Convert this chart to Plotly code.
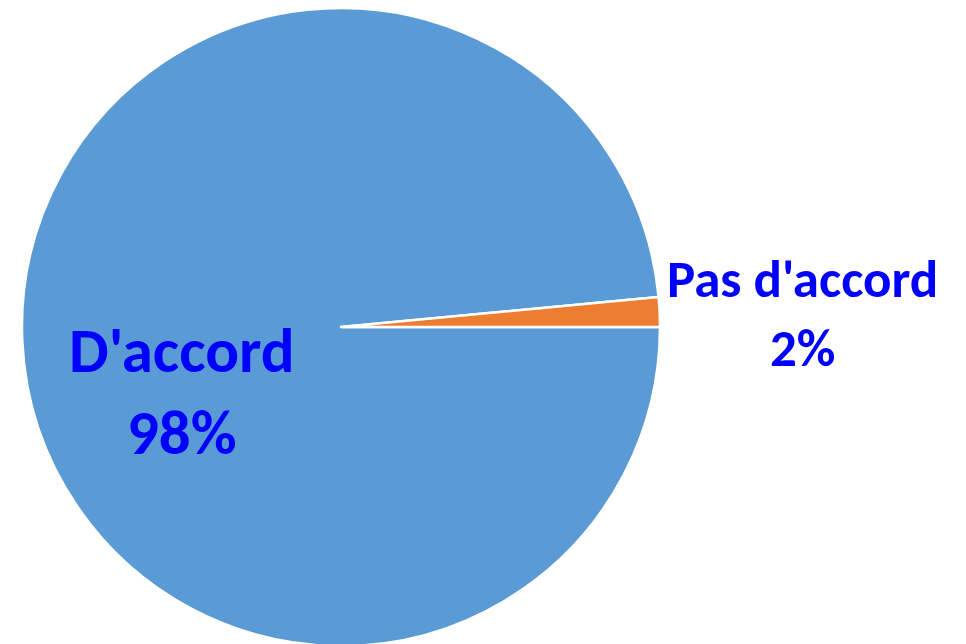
import plotly.graph_objects as go

labels = ["D'accord", "Pas d'accord"]
values = [98.5, 1.5]
pct_text = ["98%", "2%"]
colors = ["#5B9BD5", "#ED7D31"]

W, H = 966, 644
FONT = "Carlito, Lato, 'Open Sans', sans-serif"

fig = go.Figure(go.Pie(
    labels=labels,
    values=values,
    sort=False,
    direction="clockwise",
    rotation=90,
    textinfo="none",
    hoverinfo="label+percent",
    marker=dict(colors=colors, line=dict(color="white", width=2.5)),
    domain=dict(x=[13 / W, 653 / W], y=[6 / H, 1]),
    showlegend=False,
))

# label positions (paper coords) and sizes
ann_pos = [(174 / W, 1 - 383 / H, 63), (794 / W, 1 - 306 / H, 53)]
for lab, pct, (ax, ay, fs) in zip(labels, pct_text, ann_pos):
    fig.add_annotation(
        x=ax, y=ay, xref="paper", yref="paper",
        text=f"<b>{lab}<br>{pct}</b>", showarrow=False,
        xanchor="center", yanchor="middle", align="center",
        font=dict(family=FONT, size=fs, color="#0000FF"),
    )

fig.update_layout(
    width=W, height=H,
    margin=dict(l=0, r=0, t=0, b=0),
    paper_bgcolor="white", plot_bgcolor="white",
)

fig.write_html("out.html")
